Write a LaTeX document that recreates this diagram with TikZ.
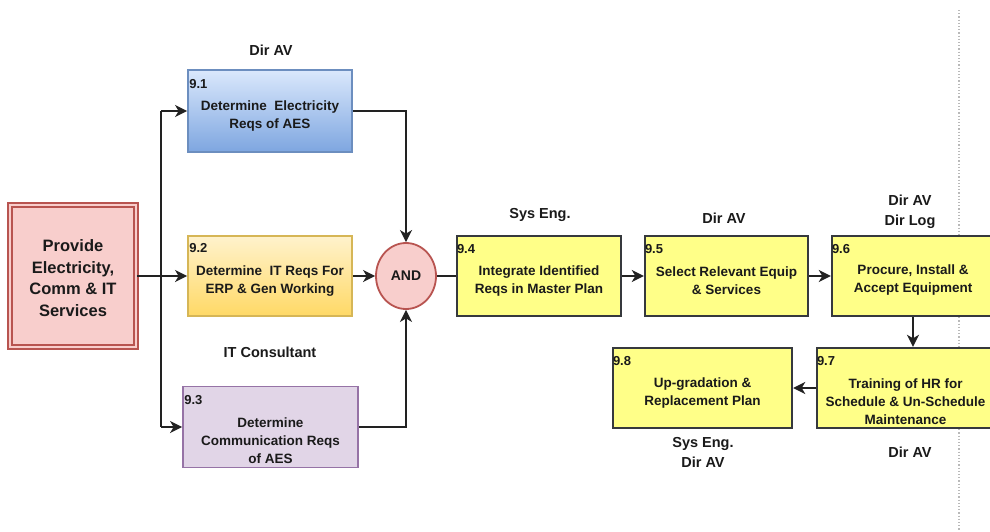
\documentclass[tikz,border=0pt]{standalone}
\usepackage{fontspec}
\setmainfont{Liberation Sans}
\usetikzlibrary{arrows.meta,shapes.geometric,calc}
\definecolor{provfill}{HTML}{F8CECC}
\definecolor{provdraw}{HTML}{B85450}
\definecolor{bluetop}{HTML}{DAE8FC}
\definecolor{bluebot}{HTML}{7EA6E0}
\definecolor{bluedraw}{HTML}{6C8EBF}
\definecolor{orgtop}{HTML}{FFF2CC}
\definecolor{orgbot}{HTML}{FFD966}
\definecolor{orgdraw}{HTML}{D6B656}
\definecolor{purfill}{HTML}{E1D5E7}
\definecolor{purdraw}{HTML}{9673A6}
\definecolor{yelfill}{HTML}{FFFF88}
\definecolor{yeldraw}{HTML}{36393D}
\definecolor{linecol}{HTML}{222222}
\definecolor{txtcol}{HTML}{1A1A1A}
\tikzset{
  box/.style={rectangle, inner sep=0pt, line width=1.8pt},
  ybox/.style={box, fill=yelfill, draw=yeldraw, line width=2.4pt, minimum height=80pt},
  btext/.style={align=center, font=\fontsize{13.5}{18}\selectfont\bfseries, text=txtcol, inner sep=0pt},
  num/.style={anchor=north west, font=\fontsize{13}{14}\selectfont\bfseries, text=txtcol, inner sep=0pt},
  lab/.style={align=center, font=\fontsize{14.5}{20}\selectfont\bfseries, text=txtcol, inner sep=0pt},
  conn/.style={draw=linecol, line width=2.3pt},
  arr/.style={conn, -{Stealth[length=12pt,width=12pt,inset=3.5pt]}},
}
\begin{document}
\begin{tikzpicture}[x=1pt,y=-1pt]
\useasboundingbox (0,0) rectangle (990,531);
\fill[white] (0,0) rectangle (990,531);
% dotted separator
\coordinate (dtop) at (959,10);
\coordinate (dbot) at (959,531);
\draw[gray!55, line width=1.2pt, dotted] (dtop) -- (dbot);

% nodes
\node[box, fill=provfill, draw=provdraw, line width=1.8pt, double=provfill, double distance=2.4pt,
      minimum width=126pt, minimum height=142pt] (prov) at (73,276) {};
\node[align=center, font=\fontsize{16.5}{21.5}\selectfont\bfseries, text=txtcol] (provt) at (73,278)
  {Provide\\Electricity,\\Comm \& IT\\Services};

\node[box, top color=bluetop, bottom color=bluebot, draw=bluedraw, minimum width=164pt, minimum height=82pt] (b91) at (270,111) {};
\node[box, top color=orgtop, bottom color=orgbot, draw=orgdraw, minimum width=164pt, minimum height=80pt] (b92) at (270,276) {};
\node[box, fill=purfill, draw=purdraw, minimum width=175pt, minimum height=81pt] (b93) at (270.5,427) {};
\node[ellipse, fill=provfill, draw=provdraw, line width=1.8pt, minimum width=60pt, minimum height=66pt, inner sep=0pt,
      font=\fontsize{14}{16}\selectfont\bfseries, text=txtcol] (and) at (406,276) {AND};

\node[ybox, minimum width=164pt] (b94) at (539,276) {};
\node[ybox, minimum width=163pt] (b95) at (726.5,276) {};
\node[ybox, minimum width=162pt] (b96) at (913,276) {};
\node[ybox, minimum width=177pt] (b97) at (905.5,388) {};
\node[ybox, minimum width=179pt] (b98) at (702.5,388) {};

% box texts
\node[num] (n91) at ($(b91.north west)+(2,10)$) {9.1};
\node[btext] (t91) at ($(b91.center)+(0,5)$) {Determine\ \ Electricity\\Reqs of AES};
\node[num] (n92) at ($(b92.north west)+(2,8)$) {9.2};
\node[btext] (t92) at ($(b92.center)+(0,5)$) {Determine\ \ IT Reqs For\\ERP \& Gen Working};
\node[num] (n93) at ($(b93.north west)+(2,10)$) {9.3};
\node[btext] (t93) at ($(b93.center)+(0,14)$) {Determine\\Communication Reqs\\of AES};
\node[num] (n94) at ($(b94.north west)+(1,9)$) {9.4};
\node[btext] (t94) at ($(b94.center)+(0,5)$) {Integrate Identified\\Reqs in Master Plan};
\node[num] (n95) at ($(b95.north west)+(1,9)$) {9.5};
\node[btext] (t95) at ($(b95.center)+(0,5)$) {Select Relevant Equip\\\& Services};
\node[num] (n96) at ($(b96.north west)+(1,9)$) {9.6};
\node[btext] (t96) at ($(b96.center)+(0,4)$) {Procure, Install \&\\Accept Equipment};
\node[num] (n97) at ($(b97.north west)+(1,9)$) {9.7};
\node[btext] (t97) at ($(b97.center)+(0,14)$) {Training of HR for\\Schedule \& Un-Schedule\\Maintenance};
\node[num] (n98) at ($(b98.north west)+(1,9)$) {9.8};
\node[btext] (t98) at ($(b98.center)+(0,5)$) {Up-gradation \&\\Replacement Plan};

% role labels
\node[lab] (l91) at (271,50) {Dir AV};
\node[lab] (l92) at (270,352) {IT Consultant};
\node[lab] (l94) at (540,215) {Sys Eng.};
\node[lab] (l95) at (724,218) {Dir AV};
\node[lab] (l96) at (910,212) {Dir AV\\Dir Log};
\node[lab] (l98) at (703,452) {Sys Eng.\\Dir AV};
\node[lab] (l97) at (910,452) {Dir AV};

% connectors
\coordinate (sptop) at (161,111);
\coordinate (spbot) at (161,427);
\draw[conn] (sptop) -- (spbot);
\draw[arr] (prov.east) -- (b92.west);
\draw[arr] (sptop) -- (b91.west);
\draw[arr] (spbot) -- (b93.west);
\draw[arr] (b91.east) -| (and.north);
\draw[arr] (b93.east) -| (and.south);
\draw[arr] (b92.east) -- (and.west);
\draw[conn] (and.east) -- (b94.west);
\draw[arr] (b94.east) -- (b95.west);
\draw[arr] (b95.east) -- (b96.west);
\draw[arr] (b96.south) -- (b96.south |- b97.north);
\draw[arr] (b97.west) -- (b98.east);
\end{tikzpicture}
\end{document}
